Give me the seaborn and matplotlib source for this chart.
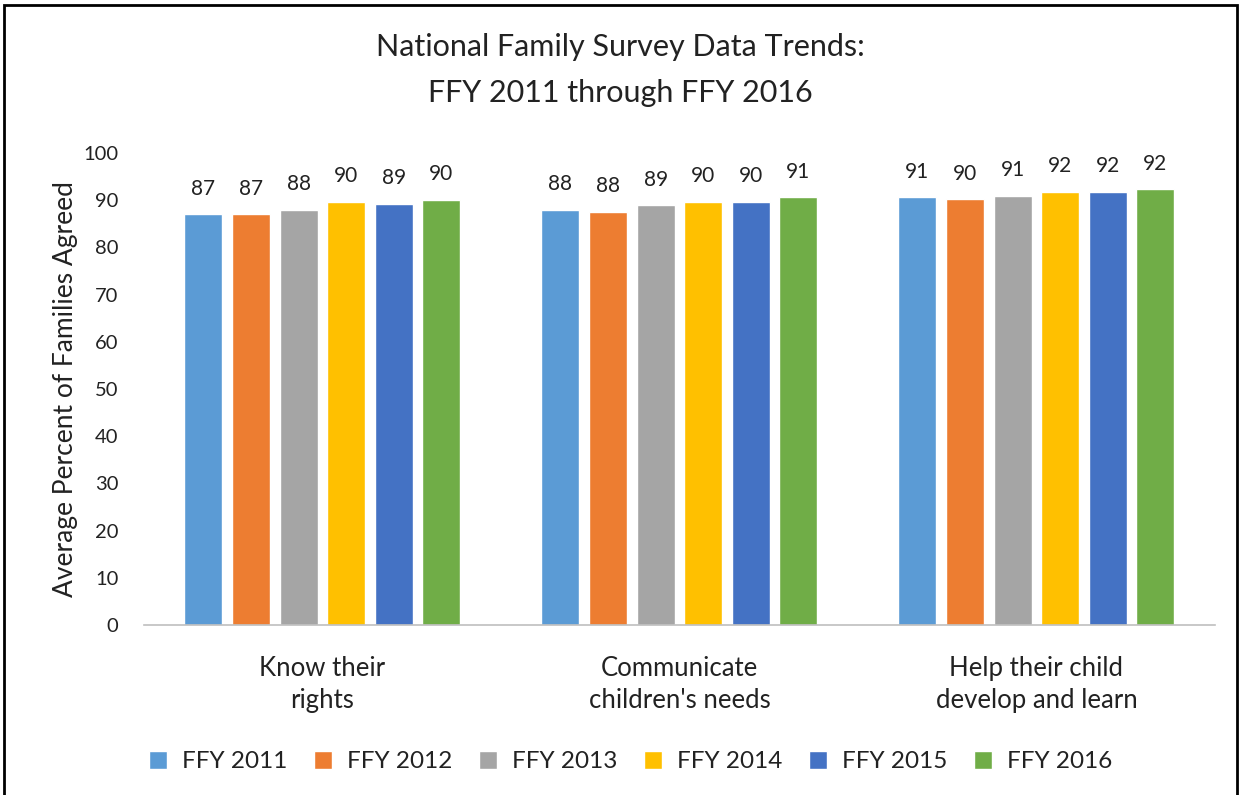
import pandas as pd
import matplotlib.pyplot as plt
import seaborn as sns
from matplotlib.patches import Rectangle

# chart data
categories = ["Know their\nrights", "Communicate\nchildren's needs", "Help their child\ndevelop and learn"]
years = ["FFY 2011", "FFY 2012", "FFY 2013", "FFY 2014", "FFY 2015", "FFY 2016"]
ffy2011 = [87.1, 88.0, 90.6]
ffy2012 = [87.1, 87.6, 90.2]
ffy2013 = [88.0, 88.9, 91.0]
ffy2014 = [89.7, 89.7, 91.8]
ffy2015 = [89.3, 89.7, 91.8]
ffy2016 = [90.1, 90.6, 92.3]
colors = ["#5B9BD5", "#ED7D31", "#A5A5A5", "#FFC000", "#4472C4", "#70AD47"]

series = [ffy2011, ffy2012, ffy2013, ffy2014, ffy2015, ffy2016]
rows = []
for year, vals in zip(years, series):
    for cat, v in zip(categories, vals):
        rows.append({"category": cat, "year": year, "value": v})
df = pd.DataFrame(rows)

sns.set_style("white")
plt.rcParams["font.family"] = ["Lato", "DejaVu Sans"]

fig = plt.figure(figsize=(12.41, 7.95), dpi=100)
ax = fig.add_axes([0.116, 0.2138, 0.863, 0.5937])

sns.barplot(data=df, x="category", y="value", hue="year", hue_order=years,
            order=categories, palette=colors, width=0.8, gap=0.2,
            saturation=1, errorbar=None, ax=ax)

for c in ax.containers:
    ax.bar_label(c, fmt="%.0f", padding=11, fontsize=15, color="#222222")

ax.set_ylim(0, 100)
ax.set_yticks(range(0, 101, 10))
ax.set_xlim(-0.5, 2.5)
ax.tick_params(axis="y", labelsize=14.5, length=0, pad=18.5, labelcolor="#222222")
ax.tick_params(axis="x", labelsize=18.5, length=0, pad=22, labelcolor="#222222")
for t in ax.get_xticklabels():
    t.set_linespacing(1.35)
ax.set_xlabel("")
ax.set_ylabel("Average Percent of Families Agreed", fontsize=19, labelpad=4, color="#222222")

for s in ["top", "right", "left"]:
    ax.spines[s].set_visible(False)
ax.spines["bottom"].set_color("#BFBFBF")
ax.spines["bottom"].set_linewidth(1.2)

fig.suptitle("National Family Survey Data Trends:\nFFY 2011 through FFY 2016",
             y=0.958, fontsize=22, color="#222222", linespacing=1.75)

handles, labels = ax.get_legend_handles_labels()
ax.legend(handles, labels, loc="center", bbox_to_anchor=(0.508, 0.042),
          bbox_transform=fig.transFigure, ncol=6, frameon=False,
          fontsize=17.5, handlelength=0.75, handleheight=0.75,
          columnspacing=1.1, handletextpad=0.6, labelcolor="#222222")

# outer chart border
fig.patches.append(Rectangle((0.003, -0.05), 0.994, 1.044, transform=fig.transFigure,
                             fill=False, edgecolor="black", linewidth=2))

fig.savefig("out.png", dpi=100)
